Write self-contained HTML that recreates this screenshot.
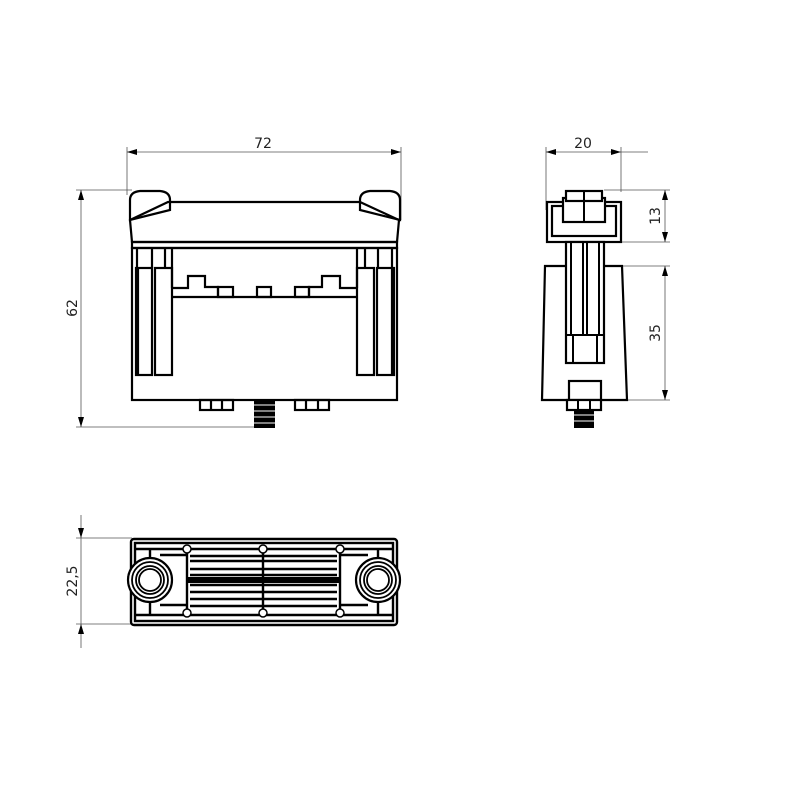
<!DOCTYPE html>
<html><head><meta charset="utf-8"><style>
html,body{margin:0;padding:0;background:#fff}
svg{display:block}
text{font-family:"DejaVu Sans","Liberation Sans",sans-serif;font-size:14px;fill:#222}
</style></head><body>
<svg width="800" height="800" viewBox="0 0 800 800" xmlns="http://www.w3.org/2000/svg">
<defs>
<marker id="a" viewBox="0 0 10 6" refX="10" refY="3" markerWidth="10" markerHeight="6" orient="auto-start-reverse" markerUnits="userSpaceOnUse"><path d="M0,0 L10,3 L0,6 z" fill="#000"/></marker>
</defs>
<g stroke="#555" stroke-width="0.8" fill="none">
<line x1="127" y1="147" x2="127" y2="195"/>
<line x1="401" y1="147" x2="401" y2="220"/>
<line x1="127" y1="152" x2="401" y2="152" marker-start="url(#a)" marker-end="url(#a)"/>
<line x1="76" y1="190" x2="132" y2="190"/>
<line x1="76" y1="427" x2="256" y2="427"/>
<line x1="81" y1="190" x2="81" y2="427" marker-start="url(#a)" marker-end="url(#a)"/>
<line x1="546" y1="147" x2="546" y2="210"/>
<line x1="621" y1="147" x2="621" y2="192"/>
<line x1="546" y1="152" x2="621" y2="152" marker-start="url(#a)" marker-end="url(#a)"/>
<line x1="621" y1="152" x2="648" y2="152"/>
<line x1="604" y1="190" x2="670" y2="190"/>
<line x1="621" y1="242" x2="670" y2="242"/>
<line x1="608" y1="266" x2="670" y2="266"/>
<line x1="626" y1="400" x2="670" y2="400"/>
<line x1="665" y1="190" x2="665" y2="242" marker-start="url(#a)" marker-end="url(#a)"/>
<line x1="665" y1="266" x2="665" y2="400" marker-start="url(#a)" marker-end="url(#a)"/>
<line x1="76" y1="538" x2="132" y2="538"/>
<line x1="76" y1="624" x2="132" y2="624"/>
<line x1="81" y1="515" x2="81" y2="538" marker-end="url(#a)"/>
<line x1="81" y1="538" x2="81" y2="624"/>
<line x1="81" y1="648" x2="81" y2="624" marker-end="url(#a)"/>
</g>
<text x="263" y="148" text-anchor="middle">72</text>
<text x="583" y="148" text-anchor="middle">20</text>
<text transform="translate(77,308) rotate(-90)" text-anchor="middle">62</text>
<text transform="translate(660,216) rotate(-90)" text-anchor="middle">13</text>
<text transform="translate(660,333) rotate(-90)" text-anchor="middle">35</text>
<text transform="translate(77,581) rotate(-90)" text-anchor="middle">22,5</text>

<!-- FRONT VIEW -->
<g stroke="#000" stroke-width="2.2" fill="none">
<rect x="132" y="248" width="265" height="152"/>
<path d="M130,220 L168,202 L360,202 L399,220 L397,242 L132,242 Z"/>
<rect x="132" y="242" width="265" height="6"/>
<path d="M130,200 Q130,192 140,191 L160,191 Q170,192 170,200 L170,210 L130,220 Z"/>
<path d="M360,200 Q360,192 370,191 L390,191 Q400,192 400,200 L400,220 L360,210 Z"/>
<line x1="172" y1="297" x2="358" y2="297"/>
<path d="M172,288 L188,288 L188,276 L205,276 L205,287 L218,287 L218,297"/>
<rect x="218" y="287" width="15" height="10"/>
<rect x="257" y="287" width="14" height="10"/>
<rect x="295" y="287" width="14" height="10"/>
<path d="M309,297 L309,287 L322,287 L322,276 L340,276 L340,288 L358,288"/>
<rect x="136" y="268" width="16" height="107"/>
<rect x="155" y="268" width="17" height="107"/>
<rect x="357" y="268" width="17" height="107"/>
<rect x="377" y="268" width="17" height="107"/>
<line x1="138" y1="268" x2="138" y2="375"/><line x1="392" y1="268" x2="392" y2="375"/>
<line x1="137" y1="249" x2="137" y2="268"/><line x1="152" y1="249" x2="152" y2="268"/>
<line x1="165" y1="249" x2="165" y2="268"/><line x1="172" y1="249" x2="172" y2="288"/>
<line x1="357" y1="249" x2="357" y2="288"/><line x1="365" y1="249" x2="365" y2="268"/>
<line x1="378" y1="249" x2="378" y2="268"/><line x1="392" y1="249" x2="392" y2="268"/>
<rect x="200" y="400" width="33" height="10"/>
<rect x="295" y="400" width="34" height="10"/>
<line x1="211" y1="400" x2="211" y2="410"/><line x1="222" y1="400" x2="222" y2="410"/>
<line x1="306" y1="400" x2="306" y2="410"/><line x1="318" y1="400" x2="318" y2="410"/>
</g>
<rect x="254" y="400" width="21" height="28" fill="#000"/>
<g stroke="#fff" stroke-width="1"><line x1="254" y1="405" x2="275" y2="405"/><line x1="254" y1="411" x2="275" y2="411"/><line x1="254" y1="417" x2="275" y2="417"/><line x1="254" y1="423" x2="275" y2="423"/></g>

<!-- SIDE VIEW -->
<g stroke="#000" stroke-width="2.2" fill="#fff">
<path d="M545,266 L622,266 L627,400 L542,400 Z"/>
<rect x="547" y="202" width="74" height="40"/>
<rect x="552" y="206" width="64" height="30"/>
<rect x="563" y="198" width="42" height="24"/>
<rect x="566" y="191" width="36" height="10"/>
<rect x="566" y="242" width="38" height="121"/>
<rect x="569" y="381" width="32" height="19"/>
<rect x="567" y="400" width="34" height="10"/>
</g>
<g stroke="#000" stroke-width="2" fill="none">
<line x1="584" y1="191" x2="584" y2="222"/>
<line x1="563" y1="266" x2="566" y2="266"/>
<line x1="583" y1="242" x2="583" y2="335"/><line x1="587" y1="242" x2="587" y2="335"/>
<line x1="571" y1="242" x2="571" y2="335"/><line x1="599" y1="242" x2="599" y2="335"/>
<line x1="566" y1="335" x2="604" y2="335"/>
<line x1="573" y1="335" x2="573" y2="363"/><line x1="597" y1="335" x2="597" y2="363"/>
<line x1="578" y1="400" x2="578" y2="410"/><line x1="590" y1="400" x2="590" y2="410"/>
</g>
<rect x="574" y="410" width="20" height="18" fill="#000"/>
<g stroke="#fff" stroke-width="1"><line x1="574" y1="415" x2="594" y2="415"/><line x1="574" y1="421" x2="594" y2="421"/></g>

<!-- BOTTOM VIEW -->
<g stroke="#000" stroke-width="2.4" fill="none">
<rect x="131" y="539" width="266" height="86" rx="3"/>
<rect x="135" y="543" width="258" height="78"/>
<line x1="135" y1="549" x2="393" y2="549"/><line x1="135" y1="615" x2="393" y2="615"/>
<line x1="187" y1="549" x2="187" y2="615"/><line x1="263" y1="549" x2="263" y2="615"/><line x1="340" y1="549" x2="340" y2="615"/>
<line x1="190" y1="556" x2="337" y2="556"/><line x1="190" y1="561" x2="337" y2="561"/>
<line x1="190" y1="569" x2="337" y2="569"/><line x1="190" y1="575" x2="337" y2="575"/>
<line x1="190" y1="585" x2="337" y2="585"/><line x1="190" y1="592" x2="337" y2="592"/>
<line x1="190" y1="599" x2="337" y2="599"/><line x1="190" y1="606" x2="337" y2="606"/>
<line x1="160" y1="555" x2="187" y2="555"/><line x1="160" y1="605" x2="187" y2="605"/>
<line x1="340" y1="555" x2="368" y2="555"/><line x1="340" y1="605" x2="368" y2="605"/>
<line x1="150" y1="549" x2="150" y2="557"/><line x1="150" y1="603" x2="150" y2="615"/>
<line x1="378" y1="549" x2="378" y2="557"/><line x1="378" y1="603" x2="378" y2="615"/>
</g>
<rect x="187" y="577" width="153" height="6" fill="#000"/>
<g fill="#fff" stroke="#000" stroke-width="2.2">
<circle cx="150" cy="580" r="22"/><circle cx="378" cy="580" r="22"/>
</g>
<g fill="none" stroke="#000" stroke-width="1.8">
<circle cx="150" cy="580" r="18"/><circle cx="150" cy="580" r="14"/><circle cx="150" cy="580" r="11"/>
<circle cx="378" cy="580" r="18"/><circle cx="378" cy="580" r="14"/><circle cx="378" cy="580" r="11"/>
</g>
<g fill="#fff" stroke="#000" stroke-width="1.5">
<circle cx="187" cy="549" r="4"/><circle cx="263" cy="549" r="4"/><circle cx="340" cy="549" r="4"/>
<circle cx="187" cy="613" r="4"/><circle cx="263" cy="613" r="4"/><circle cx="340" cy="613" r="4"/>
</g>
</svg>
</body></html>
